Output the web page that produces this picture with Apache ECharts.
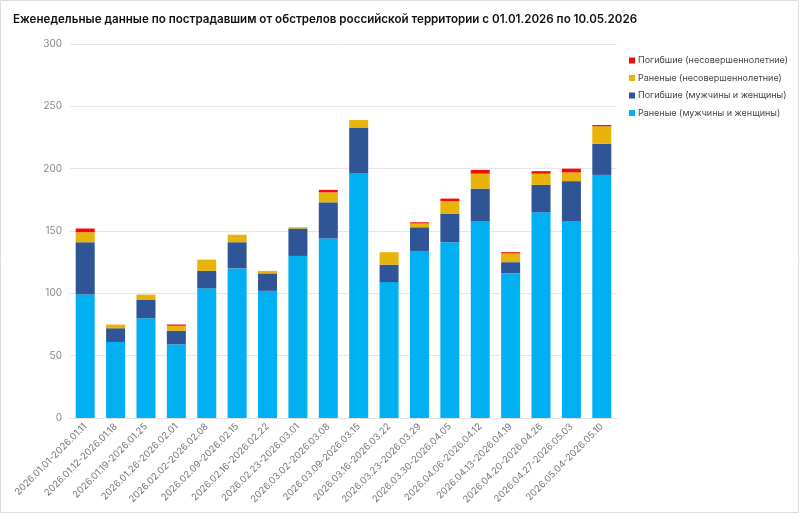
<!DOCTYPE html>
<html>
<head>
<meta charset="utf-8">
<script src="https://cdn.jsdelivr.net/npm/echarts@6/dist/echarts.min.js"></script>
<style>
    body { margin: 0; background: #fff; }
    #main { width: 800px; height: 514px; }
</style>
</head>
<body>
<div id="main"></div>
<script>
    // недели
    var weeks = ['2026.01.01-2026.01.11', '2026.01.12-2026.01.18', '2026.01.19-2026.01.25', '2026.01.26-2026.02.01',
        '2026.02.02-2026.02.08', '2026.02.09-2026.02.15', '2026.02.16-2026.02.22', '2026.02.23-2026.03.01',
        '2026.03.02-2026.03.08', '2026.03.09-2026.03.15', '2026.03.16-2026.03.22', '2026.03.23-2026.03.29',
        '2026.03.30-2026.04.05', '2026.04.06-2026.04.12', '2026.04.13-2026.04.19', '2026.04.20-2026.04.26',
        '2026.04.27-2026.05.03', '2026.05.04-2026.05.10'];

    var woundedAdults = [99, 61, 80, 59, 104, 120, 102, 130, 144, 196, 109, 134, 141, 158, 116, 165, 158, 195];
    var killedAdults  = [42, 11, 15, 11, 14, 21, 14, 22, 29, 37, 14, 19, 23, 26, 9, 22, 32, 25];
    var woundedMinors = [8, 3, 4, 4, 9, 6, 2, 1, 8, 6, 10, 3, 10, 12, 7, 9, 7, 14];
    var killedMinors  = [3, 0, 0, 1, 0, 0, 0, 0, 2, 0, 0, 1, 2, 3, 1, 2, 3, 1];

    var yTicks = [0, 50, 100, 150, 200, 250, 300];

    var names = ['Раненые (мужчины и женщины)', 'Погибшие (мужчины и женщины)',
        'Раненые (несовершеннолетние)', 'Погибшие (несовершеннолетние)'];
    var colors = ['#00b0f0', '#2f5597', '#e8b409', '#f50a0a'];
    var values = [woundedAdults, killedAdults, woundedMinors, killedMinors];

    var myChart = echarts.init(document.getElementById('main'));

    var series = names.map(function (n, i) {
        return {
            name: n,
            type: 'bar',
            stack: 'total',
            barWidth: 19,
            itemStyle: { color: colors[i] },
            data: values[i]
        };
    });

    var option = {
        animation: false,
        textStyle: { fontFamily: 'Inter' },
        graphic: [{
            type: 'rect',
            shape: { x: 0.5, y: 0.5, width: 798, height: 512 },
            style: { fill: 'none', stroke: '#dedede', lineWidth: 1 },
            silent: true
        }],
        title: {
            text: 'Еженедельные данные по пострадавшим от обстрелов российской территории с 01.01.2026 по 10.05.2026',
            left: 8,
            top: 9,
            textStyle: { fontSize: 11.6, fontWeight: 600, color: '#111', fontFamily: 'Inter' }
        },
        legend: {
            orient: 'vertical',
            left: 624,
            top: 51,
            itemWidth: 6,
            itemHeight: 6,
            itemGap: 8.5,
            icon: 'rect',
            data: names.slice().reverse(),
            textStyle: { fontSize: 9, color: '#444', fontFamily: 'Inter', padding: [0, 0, 0, -2] }
        },
        grid: {
            left: 70,
            right: 183,
            top: 44,
            bottom: 96
        },
        xAxis: {
            type: 'category',
            data: weeks,
            axisLine: { lineStyle: { color: '#e2e2e2' } },
            axisTick: { show: false },
            axisLabel: {
                rotate: 45,
                interval: 0,
                fontSize: 9.5,
                color: '#777',
                margin: 7
            }
        },
        yAxis: {
            type: 'value',
            min: yTicks[0],
            max: yTicks[yTicks.length - 1],
            interval: 50,
            axisLine: { show: false },
            axisTick: { show: false },
            splitLine: { lineStyle: { color: '#e6e6e6' } },
            axisLabel: { fontSize: 10, color: '#888', margin: 8 }
        },
        series: series
    };

    myChart.setOption(option);
</script>
</body>
</html>
